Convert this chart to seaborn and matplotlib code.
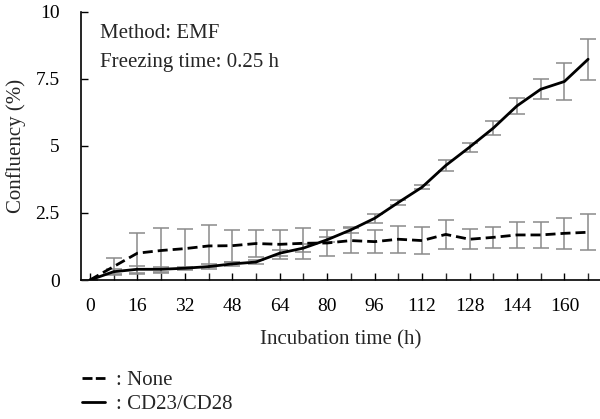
import numpy as np
import pandas as pd
import matplotlib
matplotlib.use('Agg')
import matplotlib.pyplot as plt
import seaborn as sns
from matplotlib.lines import Line2D

hours = [0, 8, 16, 24, 32, 40, 48, 56, 64, 72, 80, 88, 96, 104, 112, 120, 128, 136, 144, 152, 160, 168]

none_mean = [0.0, 0.5, 1.0, 1.1, 1.17, 1.27, 1.28, 1.36, 1.33, 1.37, 1.38, 1.47, 1.43, 1.52, 1.47, 1.7, 1.52, 1.59, 1.68, 1.68, 1.74, 1.78]
none_err = [0.0, 0.33, 0.77, 0.83, 0.75, 0.78, 0.59, 0.52, 0.54, 0.58, 0.5, 0.47, 0.43, 0.5, 0.5, 0.53, 0.37, 0.4, 0.48, 0.48, 0.58, 0.67]

cd_mean = [0.0, 0.31, 0.4, 0.4, 0.44, 0.5, 0.6, 0.67, 1.0, 1.19, 1.5, 1.87, 2.3, 2.89, 3.46, 4.27, 4.95, 5.66, 6.49, 7.11, 7.4, 8.23]
cd_err = [0.0, 0.1, 0.13, 0.1, 0.05, 0.08, 0.07, 0.08, 0.12, 0.15, 0.1, 0.1, 0.16, 0.09, 0.08, 0.2, 0.17, 0.26, 0.29, 0.37, 0.68, 0.77]

groups = ['None', 'CD23/CD28']

df = pd.DataFrame({
    'Hours': hours * 2,
    'Confluency': none_mean + cd_mean,
    'Err': none_err + cd_err,
    'Group': ['None'] * len(hours) + ['CD23/CD28'] * len(hours),
})

sns.set_style('ticks')
plt.rcParams['font.family'] = ['Liberation Serif', 'DejaVu Serif']

fig = plt.figure(figsize=(6, 4.19), dpi=100)
ax = fig.add_axes([0.1345, 0.3317, 0.8655, 0.6403])

dash_map = {'None': (3.6, 1.8), 'CD23/CD28': ''}

for g in groups:
    sub = df[df['Group'] == g]
    ax.errorbar(sub['Hours'], sub['Confluency'], yerr=sub['Err'], fmt='none',
                ecolor='#8a8a8a', elinewidth=1.1, capsize=5.5, capthick=1.1, zorder=2)

sns.lineplot(data=df, x='Hours', y='Confluency', style='Group', style_order=groups,
             dashes=dash_map, color='black', linewidth=2, ax=ax, legend=False, zorder=3)

ax.set_xlim(-3.1, 172)
ax.set_ylim(0, 10)
ax.set_xticks(np.arange(0, 161, 16))
ax.set_xticks(np.arange(0, 173, 8), minor=True)
ax.set_yticks([0, 2.5, 5, 7.5, 10])
ax.set_yticklabels(['0', '2.5', '5', '7.5', '10'])
ax.tick_params(axis='both', direction='in', labelsize=14, length=5, width=1, colors='black')
ax.tick_params(axis='y', pad=15)
ax.tick_params(axis='x', pad=13)
ax.tick_params(axis='x', which='minor', direction='in', length=5, width=1)

for s in ['top', 'right']:
    ax.spines[s].set_visible(False)
for s in ['left', 'bottom']:
    ax.spines[s].set_linewidth(1.2)
    ax.spines[s].set_color('black')

ax.set_xlabel('Incubation time (h)', fontsize=15, labelpad=11)
ax.set_ylabel('Confluency (%)', fontsize=15, labelpad=7)

ax.text(0.037, 0.92, 'Method: EMF', transform=ax.transAxes, fontsize=15, va='center', ha='left')
ax.text(0.037, 0.81, 'Freezing time: 0.25 h', transform=ax.transAxes, fontsize=15, va='center', ha='left')

handles = [Line2D([0], [0], color='black', lw=2, dashes=(3.6, 1.2)),
           Line2D([0], [0], color='black', lw=2)]
fig.legend(handles, [': None', ': CD23/CD28'], loc='upper left', bbox_to_anchor=(0.137, 0.115),
           frameon=False, fontsize=15, handlelength=1.1, handletextpad=0.5,
           labelspacing=0.2, borderaxespad=0, borderpad=0)

fig.savefig('out.png', dpi=100)
